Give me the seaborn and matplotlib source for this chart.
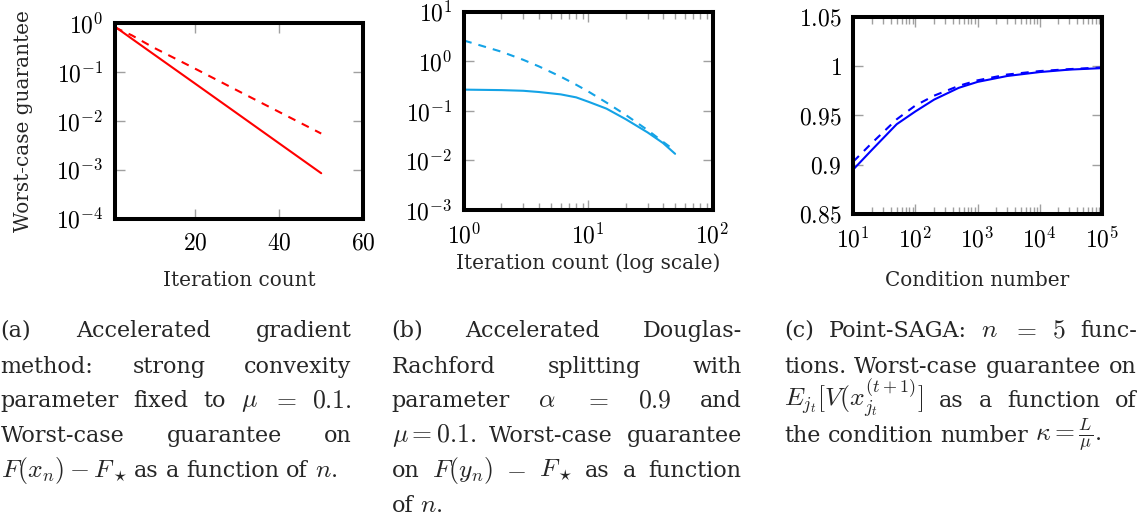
import numpy as np
import matplotlib
matplotlib.use("Agg")
import matplotlib.pyplot as plt
import seaborn as sns
from matplotlib.ticker import FixedLocator, FuncFormatter, NullLocator, NullFormatter, LogLocator

# ---------------- data ----------------
agm_iter = [1, 5, 10, 20, 30, 40, 50]
agm_solid = [0.84, 0.477, 0.236, 0.058, 0.0142, 0.00347, 0.00085]
agm_dashed = [0.81, 0.56, 0.32, 0.117, 0.042, 0.0152, 0.0055]

drs_iter = [1, 2, 3, 4, 6, 8, 10, 14, 20, 30, 40, 50]
drs_solid = [0.268, 0.262, 0.254, 0.240, 0.215, 0.187, 0.153, 0.111, 0.068, 0.0368, 0.0224, 0.0136]
drs_dashed = [2.62, 1.56, 1.07, 0.79, 0.49, 0.336, 0.246, 0.147, 0.083, 0.041, 0.0237, 0.0157]

saga_kappa = [10, 20, 50, 100, 200, 500, 1000, 3000, 10000, 30000, 100000]
saga_solid = [0.895, 0.915, 0.941, 0.954, 0.966, 0.978, 0.984, 0.990, 0.994, 0.9965, 0.998]
saga_dashed = [0.903, 0.922, 0.946, 0.960, 0.970, 0.980, 0.9856, 0.9915, 0.995, 0.997, 0.9987]

a_xticks = [20, 40, 60]
a_yticks = [1e-4, 1e-3, 1e-2, 1e-1, 1e0]
b_xticks = [1, 10, 100]
b_yticks = [1e-3, 1e-2, 1e-1, 1e0, 1e1]
c_xticks = [10, 100, 1000, 10000, 100000]
c_yticks = [0.85, 0.9, 0.95, 1.0, 1.05]

xlabels = ["Iteration count", "Iteration count (log scale)", "Condition number"]
ylabel_a = "Worst-case guarantee"

captions = {
    "a": [
        (["(a)", "Accelerated", "gradient"], True),
        (["method:", "strong", "convexity"], True),
        (["parameter", "fixed", "to", r"$\mu$", r"$=$", r"$0.1.$"], True),
        (["Worst-case", "guarantee", "on"], True),
        ([r"$F(x_n)-F_\star$", "as", "a", "function", "of", r"$n.$"], False),
    ],
    "b": [
        (["(b)", "Accelerated", "Douglas-"], True),
        (["Rachford", "splitting", "with"], True),
        (["parameter", r"$\alpha$", r"$=$", r"$0.9$", "and"], True),
        ([r"$\mu=0.1.$", "Worst-case", "guarantee"], True),
        (["on", r"$F(y_n)$", r"$-$", r"$F_\star$", "as", "a", "function"], True),
        (["of", r"$n.$"], False),
    ],
    "c": [
        (["(c)", "Point-SAGA:", r"$n$", r"$=$", r"$5$", "func-"], True),
        (["tions.", "Worst-case", "guarantee", "on"], True),
        ([r"$E_{j_t}[V(x_{j_t}^{(t+1)}]$", "as", "a", "function", "of"], True),
        (["the", "condition", "number", r"$\kappa=\frac{L}{\mu}.$"], False),
    ],
}

# ---------------- style ----------------
sns.set_theme(style="white")
plt.rcParams["font.family"] = ["DejaVu Serif"]
plt.rcParams["mathtext.fontset"] = "cm"
plt.rcParams["axes.unicode_minus"] = True

W, H = 1138, 519
fig = plt.figure(figsize=(W / 100, H / 100), dpi=100)


def px_axes(x0, y0, x1, y1):
    return fig.add_axes([x0 / W, 1 - y1 / H, (x1 - x0) / W, (y1 - y0) / H])


ax_a = px_axes(115, 23, 363.3, 218.7)
ax_b = px_axes(464, 11.7, 712.5, 210)
ax_c = px_axes(853.3, 17, 1101.7, 213.7)

RED = "#ff0000"
CYAN = "#14a3e6"
BLUE = "#0000ff"
LW = 1.5
DASH = (0, (3.8, 3.4))

sns.lineplot(x=agm_iter, y=agm_solid, ax=ax_a, color=RED, linewidth=LW)
sns.lineplot(x=agm_iter, y=agm_dashed, ax=ax_a, color=RED, linewidth=LW, linestyle=DASH)
sns.lineplot(x=drs_iter, y=drs_solid, ax=ax_b, color=CYAN, linewidth=LW)
sns.lineplot(x=drs_iter, y=drs_dashed, ax=ax_b, color=CYAN, linewidth=LW, linestyle=DASH)
sns.lineplot(x=saga_kappa, y=saga_solid, ax=ax_c, color=BLUE, linewidth=LW)
sns.lineplot(x=saga_kappa, y=saga_dashed, ax=ax_c, color=BLUE, linewidth=LW, linestyle=DASH)

pow_fmt = FuncFormatter(lambda v, p: r"$10^{%d}$" % int(round(np.log10(v))))
num_fmt = FuncFormatter(lambda v, p: r"$%g$" % v)

# panel a
ax_a.set_yscale("log")
ax_a.set_xlim(1, 60)
ax_a.set_ylim(1e-4, 1)
ax_a.xaxis.set_major_locator(FixedLocator(a_xticks))
ax_a.xaxis.set_major_formatter(num_fmt)
ax_a.xaxis.set_minor_locator(NullLocator())
ax_a.yaxis.set_major_locator(FixedLocator(a_yticks))
ax_a.yaxis.set_major_formatter(pow_fmt)
ax_a.yaxis.set_minor_locator(NullLocator())

# panel b
ax_b.set_xscale("log")
ax_b.set_yscale("log")
ax_b.set_xlim(1, 100)
ax_b.set_ylim(1e-3, 10)
ax_b.xaxis.set_major_locator(FixedLocator(b_xticks))
ax_b.xaxis.set_major_formatter(pow_fmt)
ax_b.xaxis.set_minor_locator(LogLocator(base=10, subs=np.arange(2, 10), numticks=20))
ax_b.xaxis.set_minor_formatter(NullFormatter())
ax_b.yaxis.set_major_locator(FixedLocator(b_yticks))
ax_b.yaxis.set_major_formatter(pow_fmt)
ax_b.yaxis.set_minor_locator(NullLocator())

# panel c
ax_c.set_xscale("log")
ax_c.set_xlim(10, 1e5)
ax_c.set_ylim(0.85, 1.05)
ax_c.xaxis.set_major_locator(FixedLocator(c_xticks))
ax_c.xaxis.set_major_formatter(pow_fmt)
ax_c.xaxis.set_minor_locator(LogLocator(base=10, subs=np.arange(2, 10), numticks=20))
ax_c.xaxis.set_minor_formatter(NullFormatter())
ax_c.yaxis.set_major_locator(FixedLocator(c_yticks))
ax_c.yaxis.set_major_formatter(num_fmt)
ax_c.yaxis.set_minor_locator(NullLocator())

label_y = {ax_a: -0.344, ax_b: -0.2975, ax_c: -0.3676}
for ax, xl in zip([ax_a, ax_b, ax_c], xlabels):
    ax.tick_params(which="both", direction="in", top=True, right=True, bottom=True, left=True,
                   color="#a0a0a0", labelcolor="black", width=1.0, labelsize=17)
    ax.tick_params(which="major", length=7.2)
    ax.tick_params(which="minor", length=4.8)
    ax.tick_params(axis="x", which="major", pad=9.5)
    ax.tick_params(axis="y", which="major", pad=8.5)
    for s in ax.spines.values():
        s.set_visible(True)
        s.set_color("black")
        s.set_linewidth(2.9)
    ax.grid(False)
    ax.set_facecolor("white")
    ax.set_xlabel(xl, fontsize=14.4)
    ax.xaxis.label.set_va("baseline")
    ax.xaxis.set_label_coords(0.5, label_y[ax])

ax_a.set_ylabel(ylabel_a, fontsize=14.4)
ax_a.yaxis.set_label_coords((33.3 - 115) / 248.3, 0.5)

# ---------------- captions (justified) ----------------
renderer = fig.canvas.get_renderer()
CAP_FS = 16
MATH_FS = 18.5


def fs_of(s):
    return MATH_FS if s.startswith("$") else CAP_FS


def width_of(s):
    t = fig.text(0, 0, s, fontsize=fs_of(s))
    w = t.get_window_extent(renderer).width
    t.remove()
    return w


space_w = width_of("a a") - width_of("aa")

cap_layout = {
    "a": (0.7, 351.7, [337, 372.7, 407, 441.7, 476.7]),
    "b": (391.7, 741.7, [337, 372.7, 407, 441.7, 476.7, 512]),
    "c": (784, 1137, [337, 372.7, 406.7, 441.7]),
}

for key, lines in captions.items():
    x0, x1, baselines = cap_layout[key]
    for (tokens, justify), yb in zip(lines, baselines):
        widths = [width_of(t) for t in tokens]
        if justify and len(tokens) > 1:
            gap = (x1 - x0 - sum(widths)) / (len(tokens) - 1)
        else:
            gap = space_w
        x = x0
        for tok, w in zip(tokens, widths):
            fig.text(x / W, 1 - yb / H, tok, fontsize=fs_of(tok), ha="left", va="baseline")
            x += w + gap

fig.savefig("out.png", dpi=100, facecolor="white")
